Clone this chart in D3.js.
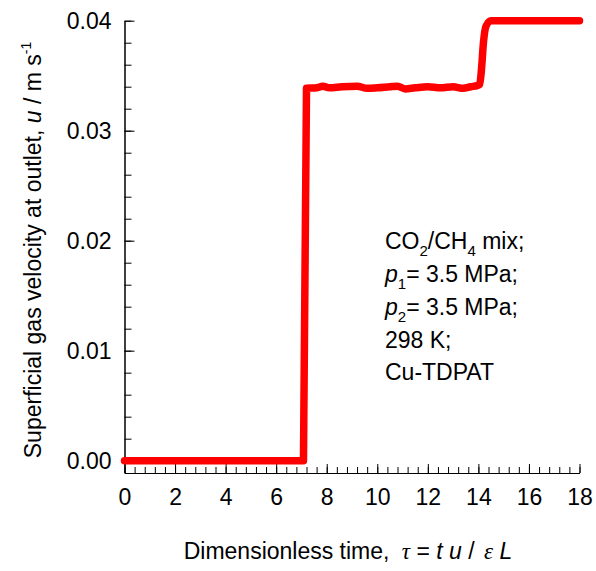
<!DOCTYPE html>
<html>
<head>
<meta charset="utf-8">
<script src="https://cdn.jsdelivr.net/npm/d3@7"></script>
<style>
  body { margin: 0; background: #fff; }
  svg { display: block; font-family: "Liberation Sans", Arial, sans-serif; }
  .axis path, .axis line { stroke: #000; stroke-width: 1; }
  .axis text { font-size: 23px; fill: #000; font-family: "Liberation Sans", Arial, sans-serif; }
</style>
</head>
<body>
<script>
(function () {

    // dimensionless time and outlet velocity
    var tau = [0, 7.08, 7.2, 7.6, 7.85, 8.1, 8.6, 9.2, 9.6, 10.0, 10.5, 10.8, 11.1, 11.5, 12.0, 12.5, 13.0, 13.4, 13.7, 13.95, 14.05, 14.12, 14.2, 14.3, 14.5, 18];
    var velocity = [0, 0, 0.03385, 0.0339, 0.03405, 0.0339, 0.0340, 0.03405, 0.03385, 0.0339, 0.0340, 0.03405, 0.0338, 0.0339, 0.0340, 0.0339, 0.0340, 0.03385, 0.0340, 0.0341, 0.0342, 0.0355, 0.0380, 0.0395, 0.0400, 0.0400];

    var xMajorTicks = [0, 2, 4, 6, 8, 10, 12, 14, 16, 18];
    var yMajorTicks = [0, 0.01, 0.02, 0.03, 0.04];
    var xDomain = [0, 18];
    var yDomain = [-0.00112, 0.04];

    var width = 596,
        height = 571;

    var svg = d3.select("body")
        .append("svg")
        .attr("width", width)
        .attr("height", height);

    var x = d3.scaleLinear()
        .domain(xDomain)
        .range([124.5, 579.5]);

    var y = d3.scaleLinear()
        .domain(yDomain)
        .range([473, 20.7]);

    // minor ticks every 0.4 on x, 0.002 on y
    var xMinor = d3.range(0, 18.001, 0.4).map(function (d) { return +d.toFixed(1); });
    var yMinor = d3.range(0, 0.04001, 0.002).map(function (d) { return +d.toFixed(3); });

    svg.append("g")
        .attr("class", "axis")
        .attr("transform", "translate(0," + y(yDomain[0]) + ")")
        .call(d3.axisBottom(x).tickValues(xMinor).tickSize(-6).tickSizeOuter(0).tickFormat(""));

    svg.append("g")
        .attr("class", "axis")
        .attr("transform", "translate(0," + y(yDomain[0]) + ")")
        .call(d3.axisBottom(x).tickValues(xMajorTicks).tickSize(-9).tickSizeOuter(0).tickPadding(16).tickFormat(d3.format("d")));

    svg.append("g")
        .attr("class", "axis")
        .attr("transform", "translate(" + x(0) + ",0)")
        .call(d3.axisLeft(y).tickValues(yMinor).tickSize(-7).tickSizeOuter(0).tickFormat(""));

    svg.append("g")
        .attr("class", "axis")
        .attr("transform", "translate(" + x(0) + ",0)")
        .call(d3.axisLeft(y).tickValues(yMajorTicks).tickSize(-10).tickSizeOuter(0).tickPadding(13).tickFormat(d3.format(".2f")));

    // the velocity trace
    var line = d3.line()
        .x(function (d, i) { return x(tau[i]); })
        .y(function (d) { return y(d); })
        .curve(d3.curveMonotoneX);

    svg.append("path")
        .datum(velocity)
        .attr("d", line)
        .attr("fill", "none")
        .attr("stroke", "#ff0000")
        .attr("stroke-width", 7.5)
        .attr("stroke-linejoin", "round")
        .attr("stroke-linecap", "round");

    // x axis title
    var xt = svg.append("text")
        .attr("x", 348)
        .attr("y", 559)
        .attr("text-anchor", "middle")
        .style("font-size", "23px");
    xt.append("tspan").text("Dimensionless time, ");
    xt.append("tspan").attr("dx", 6).style("font-family", "'Liberation Serif', serif").style("font-style", "italic").text("τ");
    xt.append("tspan").text(" = ");
    xt.append("tspan").style("font-style", "italic").text("t u");
    xt.append("tspan").text(" / ");
    xt.append("tspan").attr("dx", 3).style("font-family", "'Liberation Serif', serif").style("font-style", "italic").text("ε");
    xt.append("tspan").style("font-style", "italic").text(" L");

    // y axis title
    var yt = svg.append("text")
        .attr("transform", "translate(41,250) rotate(-90)")
        .attr("text-anchor", "middle")
        .style("font-size", "23px");
    yt.append("tspan").text("Superficial gas velocity at outlet, ");
    yt.append("tspan").style("font-style", "italic").text("u");
    yt.append("tspan").text(" / m s");
    yt.append("tspan").attr("dy", -10).style("font-size", "14px").text("-1");

    // conditions note
    var noteX = 385;
    var t1 = svg.append("text").attr("x", noteX).attr("y", 249).style("font-size", "23px");
    t1.append("tspan").text("CO");
    t1.append("tspan").attr("dy", 7).style("font-size", "15px").text("2");
    t1.append("tspan").attr("dy", -7).text("/CH");
    t1.append("tspan").attr("dy", 7).style("font-size", "15px").text("4");
    t1.append("tspan").attr("dy", -7).text(" mix;");

    [["1", 282], ["2", 315]].forEach(function (p) {
        var t = svg.append("text").attr("x", noteX).attr("y", p[1]).style("font-size", "23px");
        t.append("tspan").style("font-style", "italic").text("p");
        t.append("tspan").attr("dy", 7).style("font-size", "15px").text(p[0]);
        t.append("tspan").attr("dy", -7).text("= 3.5 MPa;");
    });

    svg.append("text").attr("x", noteX).attr("y", 348).style("font-size", "23px").text("298 K;");
    svg.append("text").attr("x", noteX).attr("y", 380).style("font-size", "23px").text("Cu-TDPAT");

})();
</script>
</body>
</html>
